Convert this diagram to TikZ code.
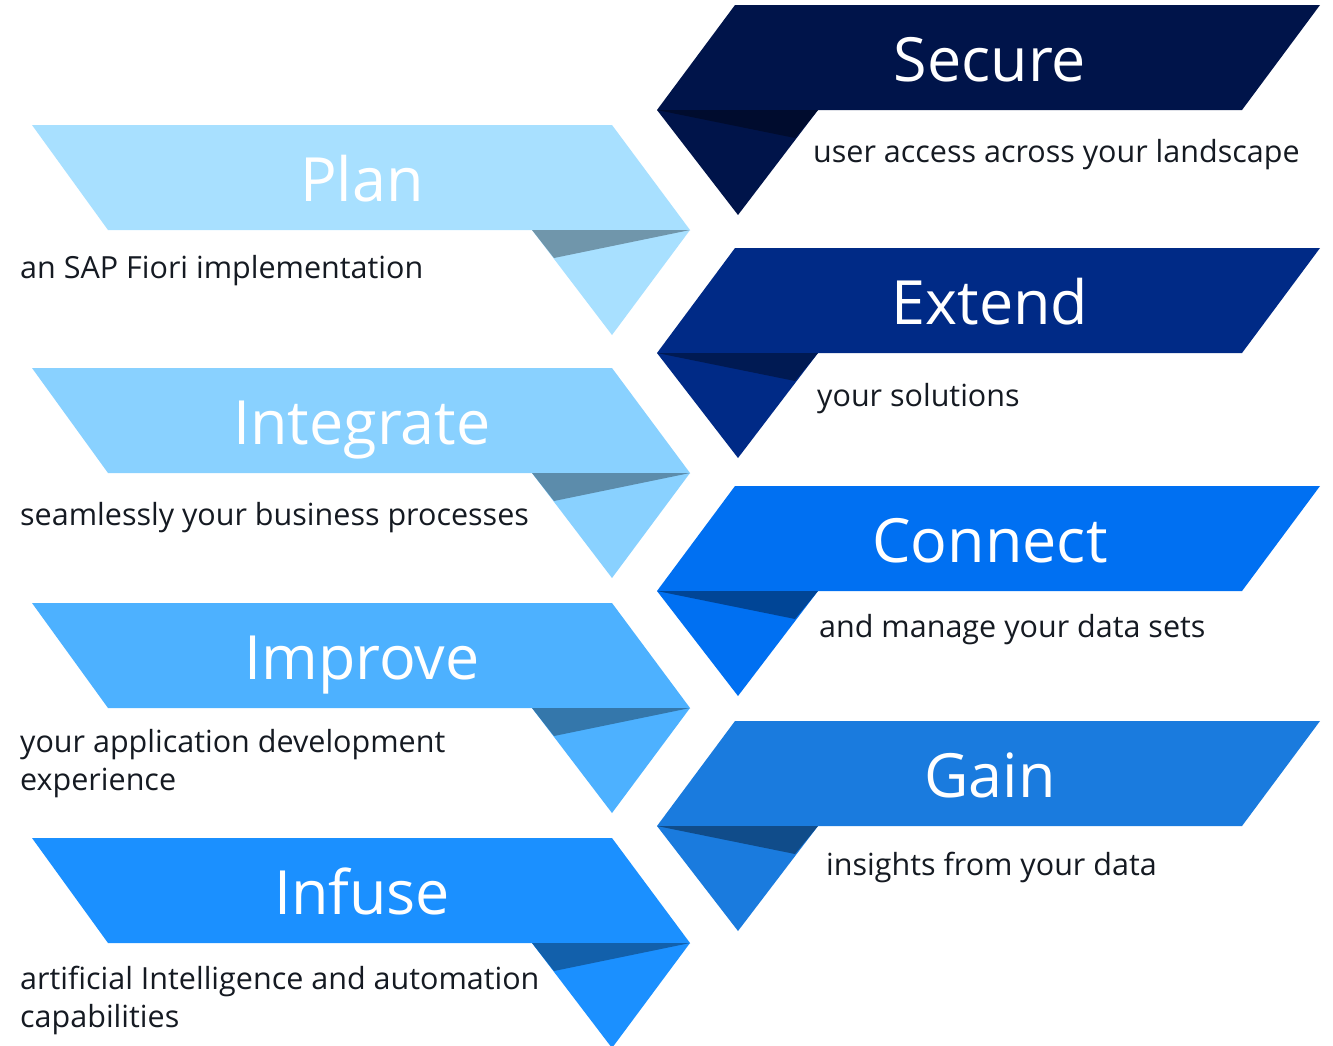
\documentclass[tikz,border=0pt]{standalone}
\usepackage{fontspec}
\setmainfont{Open Sans}
\definecolor{cPlan}{HTML}{A8E0FF}
\definecolor{cIntegrate}{HTML}{89D1FF}
\definecolor{cImprove}{HTML}{4DB1FF}
\definecolor{cInfuse}{HTML}{1B90FF}
\definecolor{cSecure}{HTML}{00144A}
\definecolor{cExtend}{HTML}{002A86}
\definecolor{cConnect}{HTML}{0070F2}
\definecolor{cGain}{HTML}{1A7BDE}
\definecolor{txt}{HTML}{151A22}
\newcommand{\LeftRib}[3]{% top y, colour, name
  \fill[#2] (32,#1) -- (612,#1) -- (690,#1+105) -- (108,#1+105) -- cycle;
  \fill[#2] (532,#1+105) -- (690,#1+105) -- (612,#1+210) -- cycle;
  \fill[#2!67!black] (532,#1+105) -- (690,#1+105) -- (554,#1+133) -- cycle;
  \node[titletext] (#3) at (362,#1+76) {#3};
}
\newcommand{\RightRib}[3]{% top y, colour, name
  \fill[#2] (735,#1) -- (1320,#1) -- (1242,#1+105) -- (657,#1+105) -- cycle;
  \fill[#2] (657,#1+105) -- (818,#1+105) -- (738,#1+210) -- cycle;
  \fill[#2!62!black] (657,#1+105) -- (818,#1+105) -- (795,#1+133) -- cycle;
  \node[titletext] (#3) at (990,#1+76) {#3};
}
\begin{document}
\begin{tikzpicture}[x=1pt,y=-1pt,
  titletext/.style={text=white,font=\fontsize{61}{61}\selectfont,anchor=base,inner sep=0pt},
  desctext/.style={text=txt,font=\fontsize{30.5}{38}\selectfont,anchor=base west,inner sep=0pt,align=left}]
\fill[white] (0,0) rectangle (1333,1045);
\useasboundingbox (0,0) rectangle (1333,1045);
\begin{scope}
\clip (0,0) rectangle (1333,1045);
\LeftRib{125}{cPlan}{Plan}
\LeftRib{368}{cIntegrate}{Integrate}
\LeftRib{603}{cImprove}{Improve}
\LeftRib{838}{cInfuse}{Infuse}
\RightRib{5}{cSecure}{Secure}
\RightRib{248}{cExtend}{Extend}
\RightRib{486}{cConnect}{Connect}
\RightRib{721}{cGain}{Gain}
\end{scope}
\node[desctext] (dPlan) at (20,278) {an SAP Fiori implementation};
\node[desctext] (dIntegrate) at (20,525) {seamlessly your business processes};
\node[desctext] (dImprove) at (20,790) {your application development\\experience};
\node[desctext] (dInfuse) at (20,1027) {artificial Intelligence and automation\\capabilities};
\node[desctext] (dSecure) at (813,162) {user access across your landscape};
\node[desctext] (dExtend) at (817,406) {your solutions};
\node[desctext] (dConnect) at (819,637) {and manage your data sets};
\node[desctext] (dGain) at (826,875) {insights from your data};
\end{tikzpicture}
\end{document}
